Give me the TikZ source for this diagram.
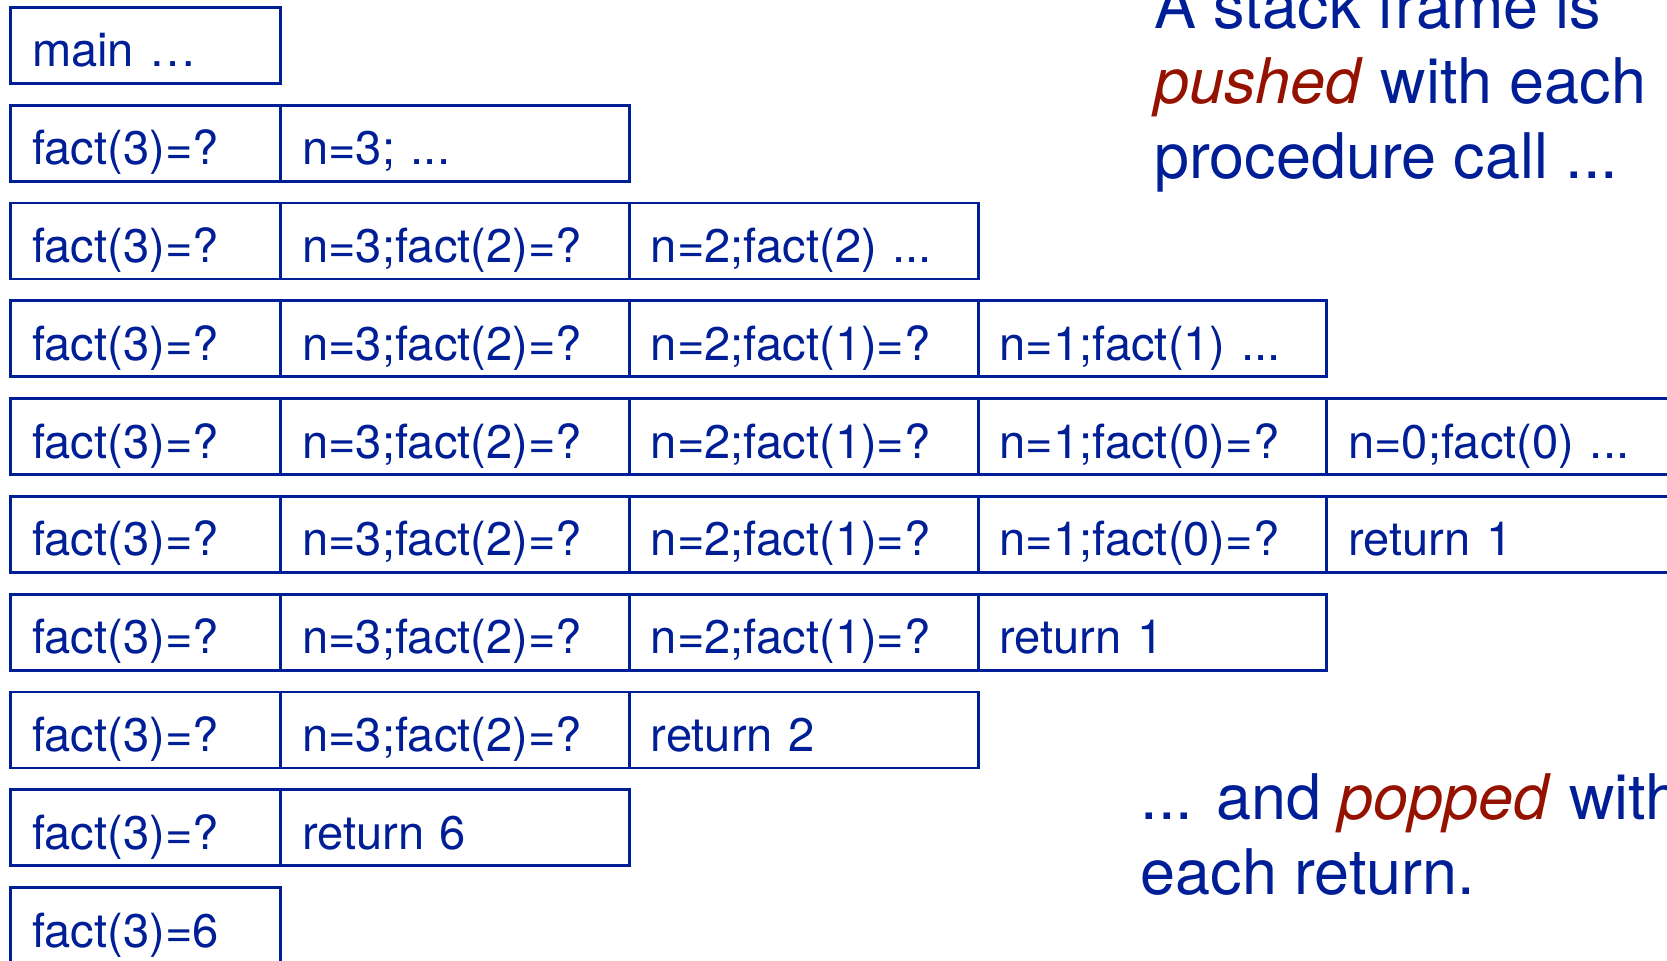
\documentclass[tikz,border=0pt]{standalone}
\usepackage{fontspec}
\setmainfont{TeX Gyre Heros}
\usepackage{xcolor}
\definecolor{framecolour}{RGB}{0,30,150}
\definecolor{stackkeycolour}{RGB}{150,18,0}
\newcommand{\stackkey}[1]{\textcolor{stackkeycolour}{\textit{#1}}}

\begin{document}
\begin{tikzpicture}[
    frame/.style={draw=framecolour,text=framecolour,line width=0.8pt,
      inner xsep=0.215cm,inner ysep=0pt,outer sep=0pt,
      minimum height=0.76cm,text height=0.43cm,text depth=0cm,
      align=left,anchor=north west,font=\fontsize{13.4}{16}\selectfont},
    first/.style={frame,text width=2.271cm},
    next/.style={frame,text width=3.057cm},
    note/.style={text=framecolour,align=left,anchor=base west,
      inner sep=0pt,font=\fontsize{17.9}{21.3}\selectfont}]
  \useasboundingbox (0,0) rectangle (16.67,-9.60);
  \node[first] (main) at (0.106,-0.074) {main …};
  \foreach \r in {1,...,8}{
    \node[first] (f\r) at (0.106,{-0.074-0.978*\r}) {fact(3)=?};
  }
  \node[first] (f9) at (0.106,{-0.074-0.978*9}) {fact(3)=6};
  % pushing
  \node[next] (a1) at (f1.north east) {n=3; ...};
  \node[next] (a2) at (f2.north east) {n=3;fact(2)=?};
  \node[next] (b2) at (a2.north east) {n=2;fact(2) ...};
  \node[next] (a3) at (f3.north east) {n=3;fact(2)=?};
  \node[next] (b3) at (a3.north east) {n=2;fact(1)=?};
  \node[next] (c3) at (b3.north east) {n=1;fact(1) ...};
  \node[next] (a4) at (f4.north east) {n=3;fact(2)=?};
  \node[next] (b4) at (a4.north east) {n=2;fact(1)=?};
  \node[next] (c4) at (b4.north east) {n=1;fact(0)=?};
  \node[next] (d4) at (c4.north east) {n=0;fact(0) ...};
  % popping
  \node[next] (a5) at (f5.north east) {n=3;fact(2)=?};
  \node[next] (b5) at (a5.north east) {n=2;fact(1)=?};
  \node[next] (c5) at (b5.north east) {n=1;fact(0)=?};
  \node[next] (d5) at (c5.north east) {return 1};
  \node[next] (a6) at (f6.north east) {n=3;fact(2)=?};
  \node[next] (b6) at (a6.north east) {n=2;fact(1)=?};
  \node[next] (c6) at (b6.north east) {return 1};
  \node[next] (a7) at (f7.north east) {n=3;fact(2)=?};
  \node[next] (b7) at (a7.north east) {return 2};
  \node[next] (a8) at (f8.north east) {return 6};
  % base is the last line
  \node[note] (push) at (11.535,-1.78)
    {A stack frame is\\\stackkey{pushed} with each\\procedure call ...};
  \node[note] (pop) at (11.40,-8.94)
    {... and \stackkey{popped} with\\each return.};
\end{tikzpicture}
\end{document}
